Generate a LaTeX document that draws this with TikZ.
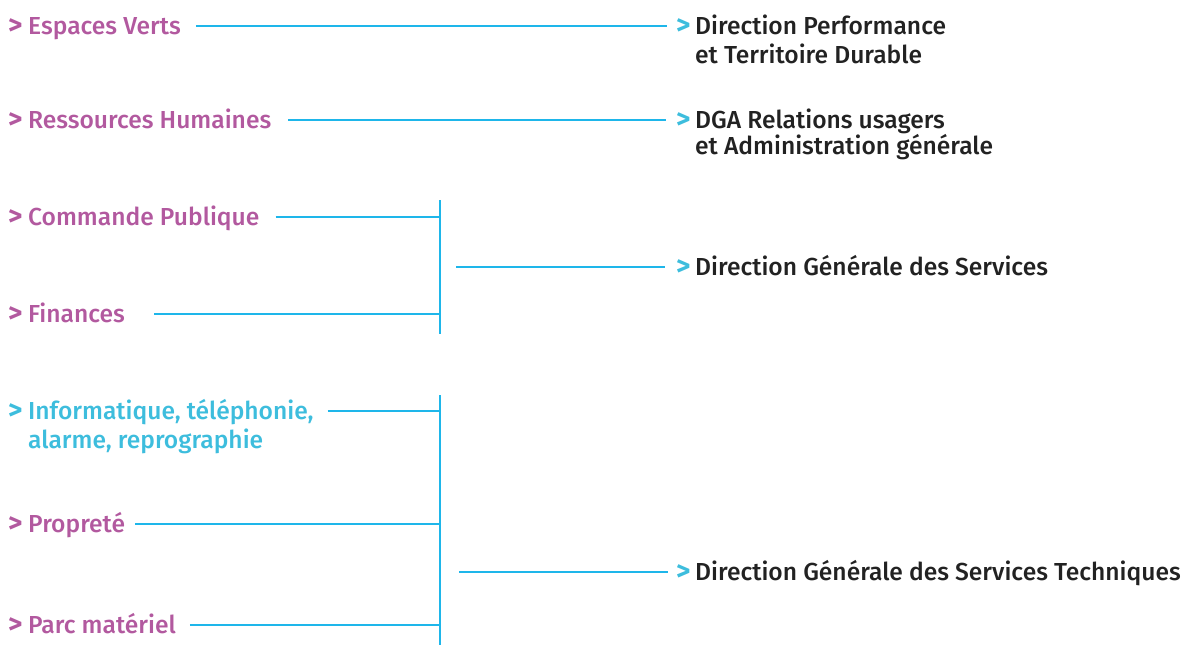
\documentclass[tikz,border=0pt]{standalone}
\usepackage{fontspec}
\usepackage{graphicx}
\setmainfont{Fira Sans}[UprightFont=* Medium, BoldFont=* Bold]
\definecolor{purp}{HTML}{B2599F}
\definecolor{cyantext}{HTML}{3DBDDD}
\definecolor{cyanline}{HTML}{1EB6EA}
\definecolor{dark}{HTML}{222222}
% chevron in the current text colour
\newcommand{\gtl}[1]{\makebox[#1][l]{\bfseries\scalebox{1.12}{>}}}
% chevron in cyan
\newcommand{\gt}[1]{\makebox[#1][l]{\textcolor{cyantext}{\bfseries\scalebox{1.12}{>}}}}
\tikzset{
  lab/.style={anchor=west, inner sep=0pt, text height=17pt, text depth=0pt,
    font=\fontsize{24.6}{29}\selectfont},
  leftp/.style={lab, text=purp},
  leftc/.style={lab, text=cyantext},
  rightd/.style={lab, text=dark},
  conn/.style={draw=cyanline, line width=1.2pt},
  bar/.style={draw=cyanline, line width=1.4pt}
}
\begin{document}
\begin{tikzpicture}[x=1pt,y=-1pt]
\useasboundingbox (0,0) rectangle (1192,645);
% left items
\node[leftp] (l1) at (8,26) {\gtl{20pt}Espaces Verts};
\node[leftp] (l2) at (8,120) {\gtl{20pt}Ressources Humaines};
\node[leftp] (l3) at (8,217) {\gtl{20pt}Commande Publique};
\node[leftp] (l4) at (8,314) {\gtl{20pt}Finances};
\node[leftc] (l5) at (8,411) {\gtl{20pt}Informatique, téléphonie,};
\node[leftc] (l5b) at (28,440) {alarme, reprographie};
\node[leftp] (l6) at (8,524) {\gtl{20pt}Propreté};
\node[leftp] (l7) at (8,625) {\gtl{20pt}Parc matériel};
% right items
\node[rightd] (r1) at (676,26) {\gt{19pt}Direction Performance};
\node[rightd] (r1b) at (695,55) {et Territoire Durable};
\node[rightd] (r2) at (676,120) {\gt{19pt}DGA Relations usagers};
\node[rightd] (r2b) at (695,146) {et Administration générale};
\node[rightd] (r3) at (676,267) {\gt{19pt}Direction Générale des Services};
\node[rightd] (r4) at (676,572) {\gt{19pt}Direction Générale des Services Techniques};
% bars
\coordinate (b1t) at (440,200);
\coordinate (b1b) at (440,334);
\coordinate (b2t) at (440,395);
\coordinate (b2b) at (440,645);
\coordinate (m1) at (456,267);
\coordinate (m2) at (459,572);
\draw[bar] (b1t) -- (b1b);
\draw[bar] (b2t) -- (b2b);
% connectors
\draw[conn] ([xshift=15pt]l1.east) -- ([xshift=-9pt]r1.west);
\draw[conn] ([xshift=17pt]l2.east) -- ([xshift=-10pt]r2.west);
\draw[conn] ([xshift=16pt]l3.east) -- (l3.east -| b1t);
\draw[conn] ([xshift=29pt]l4.east) -- (l4.east -| b1t);
\draw[conn] ([xshift=14pt]l5.east) -- (l5.east -| b2t);
\draw[conn] ([xshift=10pt]l6.east) -- (l6.east -| b2t);
\draw[conn] ([xshift=14pt]l7.east) -- (l7.east -| b2t);
\draw[conn] (m1) -- ([xshift=-11pt]r3.west);
\draw[conn] (m2) -- ([xshift=-8pt]r4.west);
\end{tikzpicture}
\end{document}
